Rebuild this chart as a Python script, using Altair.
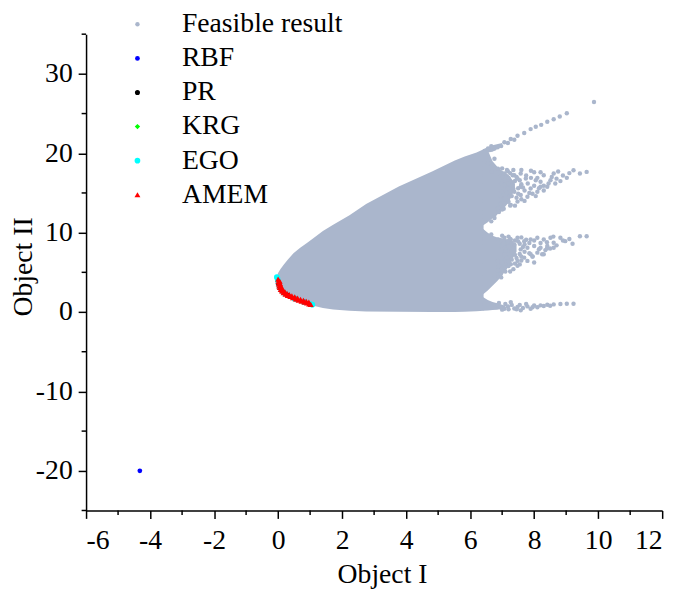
import altair as alt
import pandas as pd

# ---------------- data ----------------
# dense core of the feasible cloud: x, lower edge, upper edge
core_x  = [-0.08, -0.04, 0.0, 0.07, 0.18, 0.3, 0.48, 0.69, 0.9, 1.1, 1.4, 1.72, 2.23, 2.75, 3.77, 4.81, 5.52, 5.83, 6.2, 6.42]
core_lo = [3.5, 3.0, 2.8, 2.6, 2.25, 1.95, 1.65, 1.38, 1.12, 0.78, 0.5, 0.32, 0.15, 0.08, 0.02, 0.0, 0.0, 0.05, 0.1, 0.15]
core_hi = [3.9, 4.5, 4.9, 5.4, 6.0, 6.6, 7.4, 8.1, 8.7, 9.3, 10.2, 11.0, 12.2, 13.6, 15.8, 17.7, 19.1, 19.6, 20.1, 20.5]

# dense starts of the prongs
top_x  = [6.40, 6.70, 7.00]
top_lo = [20.0, 20.2, 20.9]
top_hi = [20.5, 21.0, 21.3]
up_x  = [6.40, 6.55, 6.70, 6.85, 7.00, 7.20, 7.40]
up_lo = [10.9, 11.3, 11.8, 12.3, 12.8, 13.8, 15.5]
up_hi = [20.5, 20.4, 19.0, 18.3, 17.8, 17.3, 16.2]
mid_x  = [6.40, 6.55, 6.70, 6.85, 7.00, 7.20, 7.45]
mid_lo = [2.2, 2.7, 3.3, 3.9, 4.6, 5.8, 7.6]
mid_hi = [10.5, 10.0, 9.6, 9.4, 9.3, 9.1, 8.5]
bot_x  = [6.40, 6.55, 6.70, 6.85, 7.10]
bot_lo = [0.15, 0.2, 0.25, 0.3, 0.5]
bot_hi = [1.9, 1.5, 1.25, 1.1, 0.8]

# sparse feasible points on the right-hand prongs
feas_x = [
    # top line
    6.56, 6.66, 6.76, 6.86, 6.97, 7.07, 7.18, 7.27, 7.38, 7.48, 7.69, 7.89, 8.05, 8.22, 8.41, 8.61, 8.80, 9.02, 9.87,
    # upper prong
    6.56, 6.76, 6.66, 6.87, 7.07, 7.18, 7.33, 7.48, 7.58, 7.74, 8.00, 8.05, 8.20, 8.30, 8.41, 8.51, 8.61, 8.66, 8.82,
    9.02, 9.23, 9.43, 9.64, 6.97, 7.18, 7.38, 7.58, 7.07, 7.27, 6.87, 6.76, 6.66, 7.58, 7.89, 8.10, 7.79, 7.48, 6.97,
    8.20, 6.97, 7.07, 7.27, 7.38, 7.18, 6.76,
    7.00, 7.10, 7.20, 7.30, 7.40, 7.50, 7.60, 7.70, 7.80, 7.90, 8.00, 8.10, 8.15, 8.30, 8.45, 8.55, 8.70, 8.90, 9.10,
    7.15, 7.30, 7.45, 7.60, 7.70, 7.95, 8.05, 8.30, 6.95, 7.05, 7.20, 6.90, 7.00, 7.35, 7.60, 7.90, 8.20, 8.75, 7.40,
    7.20, 7.25, 7.35, 7.45, 7.50, 7.55, 7.65, 7.75, 7.85, 7.10, 7.25, 7.15, 7.00, 6.95,
    # middle prong
    6.66, 6.87, 7.07, 7.27, 7.48, 7.69, 7.89, 8.10, 8.30, 8.51, 8.61, 8.82, 8.97, 9.43, 9.64, 6.97, 7.18, 7.38, 7.58,
    7.79, 8.00, 8.20, 8.41, 8.61, 7.89, 8.10, 8.30, 7.69, 7.48, 7.27, 7.07, 7.48, 6.87, 6.76, 6.97, 8.00,
    8.25, 7.79, 6.87, 7.07, 7.27, 7.18, 7.07,
    7.00, 7.20, 7.40, 7.60, 7.70, 7.85, 8.00, 8.20, 8.40, 8.60, 8.70, 8.90, 9.10, 9.20, 7.10, 7.30, 7.40, 7.55, 7.70,
    7.95, 8.15, 8.35, 8.50, 7.15, 7.30, 7.60, 7.95, 7.00, 7.20, 7.35, 6.90, 6.95, 7.10, 8.40, 7.05, 7.30, 7.55,
    7.20, 7.25, 7.35, 7.45, 7.50, 7.65, 7.75, 7.85, 7.60, 7.40, 7.55, 7.20, 7.10, 7.25,
    # bottom prong
    6.87, 7.18, 7.48, 7.79, 8.00, 8.20, 8.41, 8.61, 8.82, 9.02, 9.23, 7.27, 7.07, 7.58,
    6.90, 7.00, 7.10, 7.20, 7.30, 7.45, 7.55, 7.65, 7.75, 7.95, 8.10, 8.30, 8.50, 6.95, 7.38, 7.89,
]
feas_y = [
    # top line
    20.6, 20.9, 20.6, 20.76, 20.9, 21.38, 21.3, 21.80, 21.7, 22.21, 22.55, 23.04, 23.33, 23.58, 23.96, 24.29, 24.62, 25.04, 26.45,
    # upper prong
    18.69, 19.31, 17.65, 18.06, 17.44, 17.73, 17.23, 16.82, 17.44, 16.82, 17.6, 16.61, 16.40, 17.23, 15.78, 16.61, 17.44, 16.19, 16.49,
    16.90, 17.86, 17.44, 17.65, 16.19, 15.57, 15.16, 14.74, 14.33, 13.50, 13.08, 12.25, 11.42, 15.78, 15.57, 15.16, 14.53, 13.91, 15.16,
    15.78, 17.23, 16.0, 16.40, 17.23, 14.33, 11.84,
    17.0, 16.6, 16.9, 15.9, 16.5, 15.6, 16.1, 15.3, 16.2, 16.9, 15.9, 16.9, 15.6, 15.9, 16.2, 17.0, 16.8, 17.2, 17.5,
    15.0, 14.6, 14.4, 14.2, 14.0, 14.9, 14.6, 15.3, 13.6, 13.0, 13.9, 12.6, 12.9, 17.9, 17.9, 17.8, 17.6, 17.7, 13.4,
    16.2, 17.5, 15.5, 17.0, 14.9, 16.6, 15.7, 17.2, 15.0, 14.2, 13.4, 17.9, 18.1, 14.6,
    # middle prong
    9.76, 9.14, 9.35, 9.14, 9.35, 8.93, 9.14, 9.35, 9.14, 9.35, 8.72, 9.35, 8.93, 9.55, 9.55, 8.31, 8.10, 8.51, 7.89,
    8.10, 8.31, 8.10, 8.31, 8.10, 7.27, 7.48, 7.27, 6.85, 6.44, 6.02, 5.61, 5.82, 5.19, 4.57, 4.36, 6.23,
    7.27, 6.44, 6.44, 7.27, 7.06, 8.93, 6.44,
    9.6, 9.5, 9.0, 9.4, 8.5, 8.7, 9.0, 8.7, 8.8, 9.5, 8.4, 9.0, 9.2, 8.6, 7.7, 7.6, 7.2, 7.3, 7.6,
    7.0, 7.9, 7.8, 8.0, 6.8, 6.6, 6.5, 7.0, 6.2, 5.8, 5.4, 5.8, 4.8, 5.1, 8.0, 8.6, 8.7, 8.6,
    8.3, 9.2, 8.0, 6.8, 8.9, 8.2, 9.1, 7.4, 7.0, 6.1, 6.0, 6.4, 5.6, 5.1,
    # bottom prong
    0.84, 0.71, 0.63, 0.71, 0.84, 0.84, 0.92, 0.96, 1.00, 1.04, 1.04, 1.25, 0.42, 0.21,
    1.15, 0.3, 1.0, 0.35, 0.9, 0.35, 0.9, 0.5, 1.0, 0.6, 0.6, 0.75, 0.8, 0.6, 0.45, 0.4,
]

# optimisation results
rbf_x = [-4.32]
rbf_y = [-20.0]
pr_x = [0.02, 0.12, 0.3, 0.55, 0.82]
pr_y = [3.6, 2.65, 2.1, 1.65, 1.25]
krg_x = [0.98, 1.03, 1.06]
krg_y = [0.99, 0.95, 0.90]
ego_x = [-0.04, -0.02, 0.0, 0.05, 0.2, 0.5, 0.8, 1.0, 1.07]
ego_y = [4.4, 4.2, 3.9, 3.05, 2.35, 1.7, 1.25, 1.0, 0.93]
amem_x = [0.0, 0.01, 0.02, 0.035, 0.05, 0.08, 0.12, 0.17, 0.23, 0.3, 0.38, 0.46, 0.55, 0.64, 0.73, 0.82, 0.9, 0.97, 1.02,
          0.05, 0.06, 0.08, 0.1, 0.13, 0.17, 0.22, 0.28, 0.35, 0.43, 0.52, 0.61, 0.7, 0.79, 0.88, 0.96]
amem_y = [4.15, 3.85, 3.55, 3.3, 3.1, 2.85, 2.65, 2.45, 2.25, 2.1, 1.95, 1.8, 1.65, 1.5, 1.38, 1.25, 1.13, 1.03, 0.97,
          3.9, 3.6, 3.35, 3.1, 2.9, 2.7, 2.5, 2.35, 2.2, 2.05, 1.9, 1.75, 1.6, 1.48, 1.36, 1.25]

series_names = ["Feasible result", "RBF", "PR", "KRG", "EGO", "AMEM"]
series_colors = ["#AAB6CC", "#0000FF", "#000000", "#00FF00", "#00FFFF", "#FF0000"]
series_shapes = ["circle", "circle", "circle", "diamond", "circle", "triangle-up"]
series_sizes = [20, 36, 36, 36, 36, 50]

x_ticks = [-6, -4, -2, 0, 2, 4, 6, 8, 10, 12]
x_minor = [-5, -3, -1, 1, 3, 5, 7, 9, 11]
y_ticks = [-20, -10, 0, 10, 20, 30]
y_minor = [-25, -15, -5, 5, 15, 25, 35]

# ---------------- tables ----------------
band_rows = []
for band, xs, los, his in [("core", core_x, core_lo, core_hi), ("top", top_x, top_lo, top_hi),
                           ("up", up_x, up_lo, up_hi), ("mid", mid_x, mid_lo, mid_hi),
                           ("bot", bot_x, bot_lo, bot_hi)]:
    for a, lo, hi in zip(xs, los, his):
        band_rows.append({"x": a, "lo": lo, "hi": hi, "band": band})
band_df = pd.DataFrame(band_rows)

rows = []
for name, xs, ys in [
    ("Feasible result", feas_x, feas_y),
    ("RBF", rbf_x, rbf_y),
    ("PR", pr_x, pr_y),
    ("KRG", krg_x, krg_y),
    ("EGO", ego_x, ego_y),
    ("AMEM", amem_x, amem_y),
]:
    for a, b in zip(xs, ys):
        rows.append({"x": a, "y": b, "series": name})
pts_df = pd.DataFrame(rows)

W, H = 583, 482
FONT = "Liberation Serif"

xscale = alt.Scale(domain=[-6, 12], nice=False, zero=False)
yscale = alt.Scale(domain=[-25, 35], nice=False, zero=False)

xaxis = alt.Axis(values=x_ticks, title="Object I", labelExpr="'' + datum.value",
                 titleX=W / 2 + 8, titleY=73, titleBaseline="alphabetic", labelPadding=8)
yaxis = alt.Axis(values=y_ticks, title="Object II", labelExpr="'' + datum.value",
                 titleX=-55, titleY=H / 2 - 6, titleBaseline="alphabetic", labelPadding=6)

bands = alt.Chart(band_df).mark_area(color="#AAB6CC", opacity=1).encode(
    x=alt.X("x:Q", scale=xscale, axis=xaxis),
    y=alt.Y("hi:Q", scale=yscale, axis=yaxis),
    y2="lo:Q",
    detail="band:N",
)

points = alt.Chart(pts_df).mark_point(filled=True, opacity=1, strokeWidth=0).encode(
    x=alt.X("x:Q", scale=xscale),
    y=alt.Y("y:Q", scale=yscale),
    color=alt.Color("series:N", scale=alt.Scale(domain=series_names, range=series_colors),
                    legend=alt.Legend(title=None, orient="none", legendX=38, legendY=-24,
                                      labelFont=FONT, labelFontSize=28, labelColor="black",
                                      labelLimit=400, rowPadding=6.5, labelOffset=31, padding=0,
                                      symbolStrokeWidth=0)),
    shape=alt.Shape("series:N", scale=alt.Scale(domain=series_names, range=series_shapes)),
    size=alt.Size("series:N", scale=alt.Scale(domain=series_names, range=series_sizes)),
)

xminor_df = pd.DataFrame({"x": x_minor})
yminor_df = pd.DataFrame({"y": y_minor})
xminor = alt.Chart(xminor_df).mark_rule(color="black", strokeWidth=1.5).encode(
    x=alt.X("x:Q", scale=xscale), y=alt.value(H), y2=alt.value(H + 4.5)
)
yminor = alt.Chart(yminor_df).mark_rule(color="black", strokeWidth=1.5).encode(
    y=alt.Y("y:Q", scale=yscale), x=alt.value(0), x2=alt.value(-4.5)
)

chart = alt.layer(bands, points, xminor, yminor).properties(
    width=W, height=H,
    autosize=alt.AutoSizeParams(type="none"),
    padding={"left": 79, "top": 23, "right": 15, "bottom": 79},
).configure_view(stroke=None).configure_axis(
    grid=False, labelFont=FONT, labelFontSize=28, labelColor="black",
    titleFont=FONT, titleFontSize=28, titleFontWeight="normal", titleColor="black",
    domainColor="black", domainWidth=1.5, tickColor="black", tickWidth=1.5, tickSize=8,
)

chart.save("out.html", embed_options={"renderer": "svg", "actions": False})
